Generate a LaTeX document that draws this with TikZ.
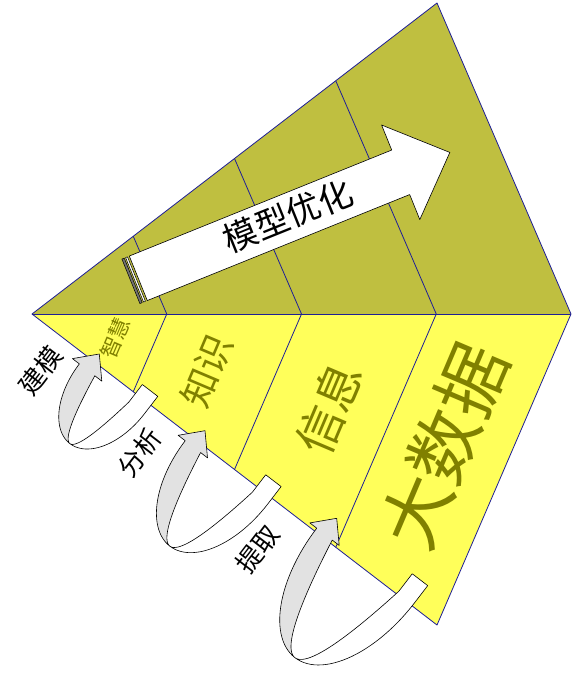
\documentclass[tikz,border=0pt]{standalone}
\usepackage{fontspec}
\newfontfamily\cjk{Noto Sans CJK SC}
\usetikzlibrary{calc}
\definecolor{olivef}{RGB}{191,191,64}
\definecolor{yelf}{RGB}{255,255,90}
\definecolor{edgeblue}{RGB}{30,30,150}
\definecolor{txtol}{RGB}{128,128,0}
\definecolor{bandgray}{RGB}{226,226,226}
% #1 head tip, #2 centre offset, #3 outer half width, #4 inner half width, #5 depth
\newcommand\uturnarrow[5]{%
  \begin{scope}[shift={#1}, rotate=-37.5]
    \filldraw[ribbon, fill=bandgray] (0,0) -- (18.5,20) -- ({#2-#4},20)
      -- plot[domain=1:0, samples=25] ({#2-#4*\x}, {20+#5*(1-\x*\x)})
      -- plot[domain=90:180, samples=30] ({#2+#3*cos(\x)}, {20+#5*sin(\x)})
      -- (-18.5,20) -- cycle;
    \filldraw[ribbon, fill=white] ({#2},{20+#5})
      -- plot[domain=90:0, samples=30] ({#2+#3*cos(\x)}, {20+#5*sin(\x)})
      -- ({#2+#3},-2) -- ({#2+#4},-2) -- ({#2+#4},20)
      -- plot[domain=1:0, samples=25] ({#2+#4*\x}, {20+#5*(1-\x*\x)})
      -- cycle;
  \end{scope}}
\begin{document}
\begin{tikzpicture}[x=1pt, y=-1pt, line join=round,
  face/.style={draw=edgeblue, line width=0.8pt},
  ribbon/.style={draw=black, line width=0.6pt},
  lbl/.style={text=txtol, inner sep=0pt, rotate=67},
  blk/.style={text=black, inner sep=0pt, rotate=52.5, font={\cjk\fontsize{26}{26}\selectfont}}]
\useasboundingbox (0,0) rectangle (574,673);
\coordinate (A) at (32,314);
\coordinate (T) at (437,3);
\coordinate (R) at (571,314);
\coordinate (B) at (437,625);
\fill[olivef] (A) -- (T) -- (R) -- cycle;
\fill[yelf] (A) -- (R) -- (B) -- cycle;
\foreach \k in {1,2,3} {
  \coordinate (t\k) at ($(A)!\k/4!(T)$);
  \coordinate (m\k) at ($(A)!\k/4!(R)$);
  \coordinate (b\k) at ($(A)!\k/4!(B)$);
  \draw[face] (t\k) -- (m\k) -- (b\k);
}
\draw[face] (A) -- (T) -- (R) -- (B) -- cycle;
\draw[face] (A) -- (R);
% labels on yellow face
\node[lbl, font={\cjk\fontsize{21}{21}\selectfont}] (lzh) at (115.5,338.3) {智慧};
\node[lbl, font={\cjk\fontsize{37}{37}\selectfont}] (lzs) at (206.7,370.8) {知识};
\node[lbl, font={\cjk\fontsize{47}{47}\selectfont}] (lxx) at (329,408) {信息};
\node[lbl, font={\cjk\fontsize{71}{71}\selectfont}] (ldsj) at (444,446) {大数据};
% big arrow
\begin{scope}[shift={(138.3,278.3)}, rotate=22]
  \filldraw[draw=black, line width=0.6pt, fill=white]
    (0,-24) -- (283,-24) -- (283,-51) -- (336,0) -- (283,51) -- (283,24) -- (0,24) -- cycle;
  \filldraw[draw=black, line width=0.5pt, fill=black!55] (-8,-24) rectangle (-5.5,24);
  \filldraw[draw=black, line width=0.5pt, fill=white] (-4,-24) rectangle (-2,24);
  \node[rotate=22, inner sep=0pt, font={\cjk\fontsize{34}{34}\selectfont}] (lmx) at (162,-2) {模型优化};
\end{scope}
% curved arrows
\uturnarrow{(99.3,354)}{31.2}{41}{21.5}{69}
\uturnarrow{(205,430.7)}{42.4}{52}{32.6}{93}
\uturnarrow{(336.7,518.3)}{51.7}{61.5}{42}{116}
% black labels
\node[blk] (ljm) at (40.8,370.8) {建模};
\node[blk] (lfx) at (139.2,452.5) {分析};
\node[blk] (ltq) at (257.5,549) {提取};
\end{tikzpicture}
\end{document}
